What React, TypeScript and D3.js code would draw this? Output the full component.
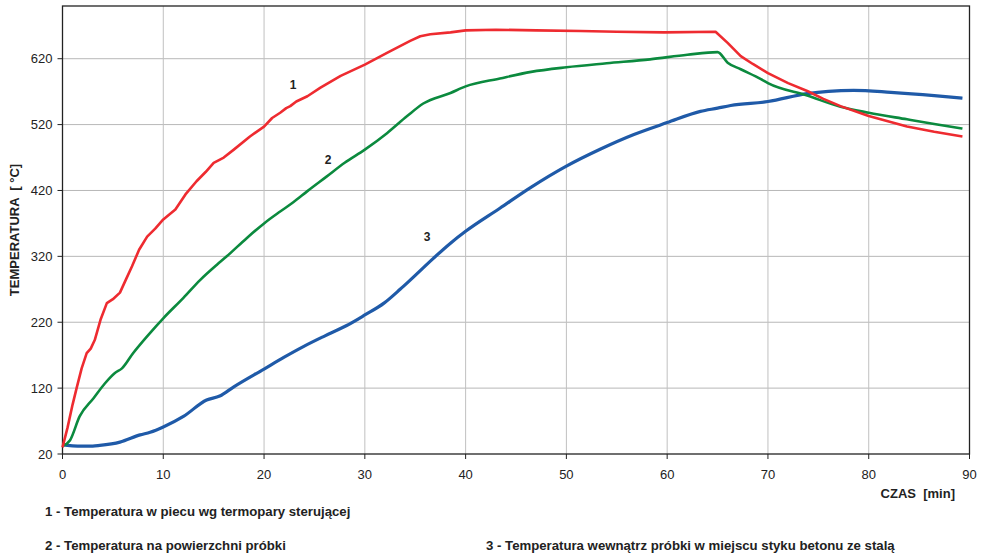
import React from "react";
import * as d3 from "d3";

const xTicks = [0, 10, 20, 30, 40, 50, 60, 70, 80, 90];
const yTicks = [20, 120, 220, 320, 420, 520, 620];

// Series 1 – furnace temperature (time [min], temperature [°C])
const s1Time = [0, 0.5, 1.0, 1.4, 1.9, 2.4, 2.8, 3.2, 3.8, 4.4, 5.0, 5.7, 6.3, 6.9, 7.6, 8.4, 9.2, 10, 11.2, 12.2, 13.3, 14.2, 15, 16, 17, 18.6, 20, 20.8, 21.6, 22.2, 22.6, 23.2, 24.3, 25.6, 27.6, 30, 32.2, 34.5, 35.5, 36.5, 38.5, 40, 43, 47, 51.4, 55, 59.7, 64.8, 66, 67.3, 68.5, 70, 72, 73.9, 75.5, 77.2, 80, 83.8, 86.5, 89.3];
const s1Temp = [30, 60, 95, 120, 150, 173, 180, 193, 225, 249, 255, 265, 285, 305, 330, 350, 362, 376, 391, 414, 434, 448, 462, 470, 482, 502, 517, 530, 538, 545, 548, 555, 563, 576, 594, 611, 629, 647, 654, 657, 660, 663, 664, 663, 662, 661, 660, 661, 644, 624, 612, 598, 583, 571, 559, 548, 533, 517, 509, 502];

// Series 2 – specimen surface temperature
const s2Time = [0, 0.75, 1.7, 3.1, 4.2, 5.2, 5.9, 7.0, 8.7, 10, 12, 13.65, 15.3, 16.3, 18.3, 20, 21.6, 22.9, 24.3, 26.2, 28, 30, 32.2, 34.2, 35.8, 38.5, 40, 43.4, 46.5, 50, 54, 58.3, 62, 65, 66, 67.3, 69.3, 70, 73.9, 77.2, 80, 83.8, 86.5, 89.3];
const s2Temp = [32, 41, 77, 105, 127, 143, 150, 173, 204, 226, 257, 284, 307, 320, 348, 370, 388, 402, 419, 441, 462, 482, 507, 533, 552, 568, 578, 590, 600, 607, 613, 619, 626, 630, 614, 604, 589, 583, 564, 547, 538, 528, 521, 514];

// Series 3 – temperature inside specimen at concrete/steel contact
const s3Time = [0, 0.5, 1.5, 3, 3.7, 5.7, 7.7, 8.7, 10, 12, 14.3, 15.6, 17, 20, 22, 23.9, 26, 28.2, 30, 31.9, 33.5, 34.5, 36.8, 38.5, 40, 43.4, 46.4, 50, 53.4, 56.7, 60, 63.3, 65, 66.3, 70, 73.9, 76, 78.5, 82.2, 86.5, 89.3];
const s3Temp = [35, 33, 32, 32, 33, 38, 49, 53, 61, 77, 102, 108, 122, 149, 167, 183, 199, 215, 231, 249, 270, 284, 317, 340, 358, 393, 424, 457, 483, 505, 523, 540, 545, 549, 555, 567, 570.5, 572, 569, 564, 560];

const seriesLabels = ["1", "2", "3"];
const legendTexts = [
  "1 - Temperatura w piecu wg termopary sterującej",
  "2 - Temperatura na powierzchni próbki",
  "3 - Temperatura wewnątrz próbki w miejscu styku betonu ze stalą",
];

const W = 983;
const H = 555;
const L = 62.5, R = 969.5, T = 6, B = 454;

export default function App() {
  const x = d3.scaleLinear().domain([0, 90]).range([L, R]);
  const y = d3.scaleLinear().domain([20, 700]).range([B, T]);

  const mk = (ts: number[], vs: number[]) => ts.map((t, i) => [t, vs[i]] as [number, number]);
  const line = d3.line<[number, number]>().x(d => x(d[0])).y(d => y(d[1]));
  const smooth = d3.line<[number, number]>().x(d => x(d[0])).y(d => y(d[1])).curve(d3.curveMonotoneX);

  const font = "'Liberation Sans', Arial, sans-serif";

  return (
    <svg width={W} height={H} style={{ position: "absolute", left: 0, top: 0, background: "#fff" }} fontFamily={font}>
      <rect x={0} y={0} width={W} height={H} fill="#fff" />
      {/* grid */}
      {yTicks.filter(v => v > 20).map(v => (
        <line key={"gy" + v} x1={L} x2={R} y1={y(v)} y2={y(v)} stroke="#b8b8b8" strokeWidth={1} />
      ))}
      {xTicks.filter(v => v > 0 && v < 90).map(v => (
        <line key={"gx" + v} x1={x(v)} x2={x(v)} y1={T} y2={B} stroke="#c0c0c0" strokeWidth={1} />
      ))}
      {/* frame */}
      <rect x={L} y={T} width={R - L} height={B - T} fill="none" stroke="#222" strokeWidth={1.3} />
      {/* ticks */}
      {yTicks.map(v => (
        <g key={"ty" + v}>
          <line x1={L - 5} x2={L} y1={y(v)} y2={y(v)} stroke="#222" strokeWidth={1} />
          <text x={L - 10} y={y(v)} dy="0.36em" textAnchor="end" fontSize={13} fill="#222">{v}</text>
        </g>
      ))}
      {xTicks.map(v => (
        <g key={"tx" + v}>
          <line x1={x(v)} x2={x(v)} y1={B} y2={B + 5} stroke="#222" strokeWidth={1} />
          <text x={x(v)} y={479} textAnchor="middle" fontSize={13} fill="#222">{v}</text>
        </g>
      ))}
      {/* series */}
      <path d={smooth(mk(s3Time, s3Temp)) || ""} fill="none" stroke="#1f5aa8" strokeWidth={3.2} strokeLinejoin="round" />
      <path d={smooth(mk(s2Time, s2Temp)) || ""} fill="none" stroke="#0b8a3e" strokeWidth={2.6} strokeLinejoin="round" />
      <path d={line(mk(s1Time, s1Temp)) || ""} fill="none" stroke="#ee2b30" strokeWidth={2.6} strokeLinejoin="round" />
      {/* curve labels */}
      <text x={293} y={89} textAnchor="middle" fontSize={12} fontWeight="bold" fill="#222">{seriesLabels[0]}</text>
      <text x={328} y={164} textAnchor="middle" fontSize={12} fontWeight="bold" fill="#222">{seriesLabels[1]}</text>
      <text x={427} y={241} textAnchor="middle" fontSize={12} fontWeight="bold" fill="#222">{seriesLabels[2]}</text>
      {/* axis titles */}
      <text x={955} y={498} textAnchor="end" fontSize={13} fontWeight="bold" fill="#222" style={{ whiteSpace: "pre" }}>{"CZAS  [min]"}</text>
      <text transform={`translate(19,230) rotate(-90)`} textAnchor="middle" fontSize={13} fontWeight="bold" fill="#222" style={{ whiteSpace: "pre" }}>{"TEMPERATURA  [ °C]"}</text>
      {/* legend */}
      <text x={45} y={516} fontSize={13.2} fontWeight="bold" fill="#222">{legendTexts[0]}</text>
      <text x={45} y={550} fontSize={13.2} fontWeight="bold" fill="#222">{legendTexts[1]}</text>
      <text x={486} y={550} fontSize={13.2} fontWeight="bold" fill="#222">{legendTexts[2]}</text>
    </svg>
  );
}
